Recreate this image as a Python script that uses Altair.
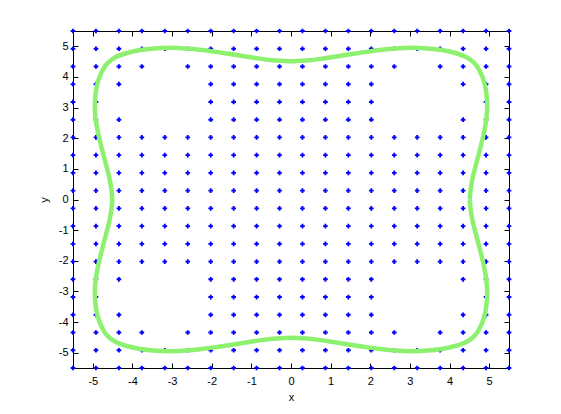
import altair as alt
import pandas as pd

# grid coordinates (20 values from -5.5 to 5.5)
grid_vals = [-5.5, -4.921, -4.342, -3.763, -3.184, -2.605, -2.026, -1.447, -0.868, -0.289,
             0.289, 0.868, 1.447, 2.026, 2.605, 3.184, 3.763, 4.342, 4.921, 5.5]

# grid cells (column index, row index counted from bottom) with no dot
missing_cells = [
    (4, 17), (3, 16), (4, 16), (5, 16), (2, 15), (3, 15), (4, 15), (5, 15), (3, 14), (4, 14), (5, 14),
    (15, 17), (14, 16), (15, 16), (16, 16), (14, 15), (15, 15), (16, 15), (17, 15), (14, 14), (15, 14), (16, 14),
    (4, 2), (3, 3), (4, 3), (5, 3), (2, 4), (3, 4), (4, 4), (5, 4), (3, 5), (4, 5), (5, 5),
    (15, 2), (14, 3), (15, 3), (16, 3), (14, 4), (15, 4), (16, 4), (17, 4), (14, 5), (15, 5), (16, 5),
]

# closed green curve, traced counter-clockwise from (4.51, 0)
curve_x = [4.51, 4.54, 4.59, 4.66, 4.73, 4.81, 4.88, 4.93, 4.95, 4.93, 4.88, 4.79, 4.65, 4.42, 4.12, 3.80,
           3.45, 3.05, 2.65, 2.25, 1.85, 1.45, 1.10, 0.75, 0.40, 0.00,
           -0.40, -0.75, -1.10, -1.45, -1.85, -2.25, -2.65, -3.05, -3.45, -3.80, -4.12, -4.42, -4.65, -4.79,
           -4.88, -4.93, -4.95, -4.93, -4.88, -4.81, -4.73, -4.66, -4.59, -4.54, -4.51,
           -4.54, -4.59, -4.66, -4.73, -4.81, -4.88, -4.93, -4.95, -4.93, -4.88, -4.79, -4.65, -4.42, -4.12,
           -3.80, -3.45, -3.05, -2.65, -2.25, -1.85, -1.45, -1.10, -0.75, -0.40, 0.00,
           0.40, 0.75, 1.10, 1.45, 1.85, 2.25, 2.65, 3.05, 3.45, 3.80, 4.12, 4.42, 4.65, 4.79, 4.88, 4.93,
           4.95, 4.93, 4.88, 4.81, 4.73, 4.66, 4.59, 4.54, 4.51]
curve_y = [0.00, 0.40, 0.75, 1.10, 1.45, 1.85, 2.25, 2.65, 3.05, 3.45, 3.80, 4.12, 4.42, 4.65, 4.79, 4.88,
           4.93, 4.95, 4.93, 4.88, 4.81, 4.73, 4.66, 4.59, 4.54, 4.51,
           4.54, 4.59, 4.66, 4.73, 4.81, 4.88, 4.93, 4.95, 4.93, 4.88, 4.79, 4.65, 4.42, 4.12, 3.80, 3.45,
           3.05, 2.65, 2.25, 1.85, 1.45, 1.10, 0.75, 0.40, 0.00,
           -0.40, -0.75, -1.10, -1.45, -1.85, -2.25, -2.65, -3.05, -3.45, -3.80, -4.12, -4.42, -4.65, -4.79,
           -4.88, -4.93, -4.95, -4.93, -4.88, -4.81, -4.73, -4.66, -4.59, -4.54, -4.51,
           -4.54, -4.59, -4.66, -4.73, -4.81, -4.88, -4.93, -4.95, -4.93, -4.88, -4.79, -4.65, -4.42, -4.12,
           -3.80, -3.45, -3.05, -2.65, -2.25, -1.85, -1.45, -1.10, -0.75, -0.40, 0.00]

tick_vals = [-5, -4, -3, -2, -1, 0, 1, 2, 3, 4, 5]

missing = set(missing_cells)
rows = []
for i, gx in enumerate(grid_vals):
    for j, gy in enumerate(grid_vals):
        if (i, j) not in missing:
            rows.append({"x": gx, "y": gy})
dots_df = pd.DataFrame(rows)
curve_df = pd.DataFrame({"x": curve_x, "y": curve_y, "k": list(range(len(curve_x)))})

xs = alt.Scale(domain=[-5.5, 5.5], nice=False, zero=False)
ys = alt.Scale(domain=[-5.5, 5.5], nice=False, zero=False)

FONT = "Liberation Sans"
LBL = "'' + datum.value"

x_axis_bottom = alt.Axis(orient="bottom", values=tick_vals, offset=-5, tickSize=5, domain=False,
                         grid=False, labelPadding=7, title="x", titlePadding=5, labelExpr=LBL)
y_axis_left = alt.Axis(orient="left", values=tick_vals, offset=-5, tickSize=5, domain=False,
                       grid=False, labelPadding=5, title="y", titlePadding=9, labelExpr=LBL)
x_axis_top = alt.Axis(orient="top", values=tick_vals, offset=-5, tickSize=5, domain=False,
                      grid=False, labels=False, title=None)
y_axis_right = alt.Axis(orient="right", values=tick_vals, offset=-5, tickSize=5, domain=False,
                        grid=False, labels=False, title=None)

dots = alt.Chart(dots_df).mark_point(shape="cross", filled=True, size=22, color="#0000FF", opacity=1).encode(
    x=alt.X("x:Q", scale=xs, axis=x_axis_bottom),
    y=alt.Y("y:Q", scale=ys, axis=y_axis_left),
)

curve = alt.Chart(curve_df).mark_line(color="#8DF06E", strokeWidth=4.5, interpolate="cardinal").encode(
    x=alt.X("x:Q", scale=xs, axis=x_axis_top),
    y=alt.Y("y:Q", scale=ys, axis=y_axis_right),
    order="k:Q",
)

chart = alt.layer(dots, curve).resolve_axis(x="independent", y="independent").properties(
    width=436, height=337,
    autosize=alt.AutoSizeParams(type="none"),
    padding={"left": 65, "top": 23, "right": 30, "bottom": 40},
    background="white",
).configure_view(stroke="black", strokeWidth=1).configure_axis(
    labelFont=FONT, labelFontSize=11, labelColor="black", tickColor="black",
    titleFont=FONT, titleFontSize=11, titleFontWeight="normal", titleColor="black",
)

chart.save("out.html", embed_options={"renderer": "svg", "actions": False})
